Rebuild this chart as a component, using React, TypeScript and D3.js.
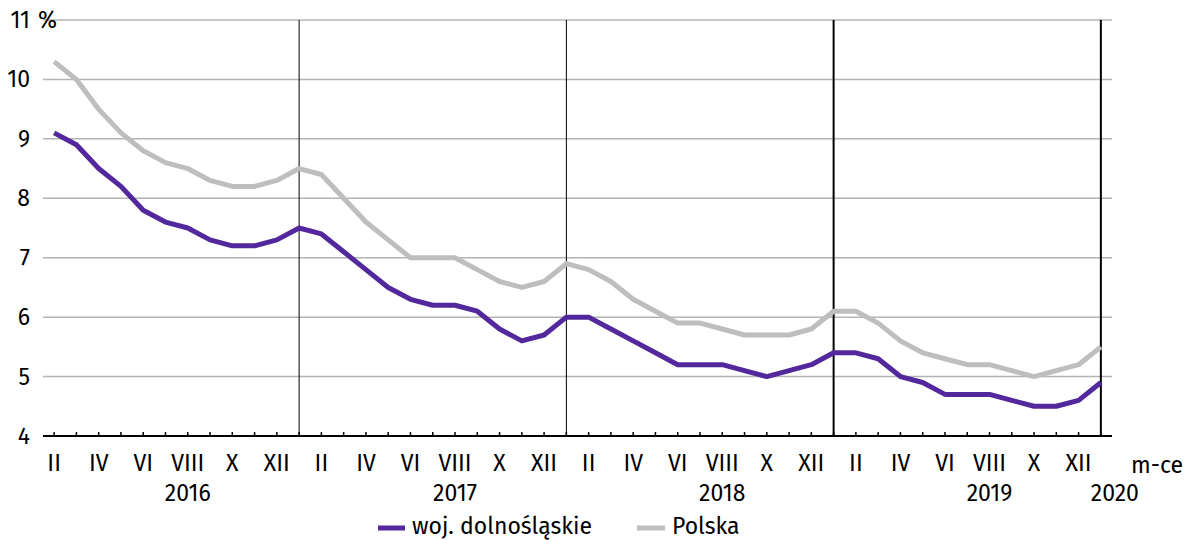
import React from "react";
import * as d3 from "d3";

const months = ["I","II","III","IV","V","VI","VII","VIII","IX","X","XI","XII"];
// data from II 2016 to I 2020
const startYear = 2016;
const startMonth = 1; // index of II
const dolnoslaskie = [
  9.1, 8.9, 8.5, 8.2, 7.8, 7.6, 7.5, 7.3, 7.2, 7.2, 7.3,
  7.5, 7.4, 7.1, 6.8, 6.5, 6.3, 6.2, 6.2, 6.1, 5.8, 5.6, 5.7,
  6.0, 6.0, 5.8, 5.6, 5.4, 5.2, 5.2, 5.2, 5.1, 5.0, 5.1, 5.2,
  5.4, 5.4, 5.3, 5.0, 4.9, 4.7, 4.7, 4.7, 4.6, 4.5, 4.5, 4.6,
  4.9,
];
const polska = [
  10.3, 10.0, 9.5, 9.1, 8.8, 8.6, 8.5, 8.3, 8.2, 8.2, 8.3,
  8.5, 8.4, 8.0, 7.6, 7.3, 7.0, 7.0, 7.0, 6.8, 6.6, 6.5, 6.6,
  6.9, 6.8, 6.6, 6.3, 6.1, 5.9, 5.9, 5.8, 5.7, 5.7, 5.7, 5.8,
  6.1, 6.1, 5.9, 5.6, 5.4, 5.3, 5.2, 5.2, 5.1, 5.0, 5.1, 5.2,
  5.5,
];
const yTicks = [4, 5, 6, 7, 8, 9, 10, 11];
const years = [2016, 2017, 2018, 2019, 2020];
const seriesNames = ["woj. dolnośląskie", "Polska"];
const colors = ["#52289c", "#bebebe"];

const W = 1185, H = 540;
const FONT = "'Fira Sans', 'Noto Sans', 'Open Sans', sans-serif";

export default function App() {
  const n = dolnoslaskie.length;
  const x = d3.scaleLinear().domain([-0.5, n - 0.5]).range([43, 1112]);
  const y = d3.scaleLinear().domain([4, 11]).range([436, 20]);
  const line = d3.line<number>().x((_, i) => x(i)).y((d) => y(d));
  const idx = d3.range(n);
  const monthOf = (i: number) => (startMonth + i) % 12;
  const yearOf = (i: number) => startYear + Math.floor((startMonth + i) / 12);
  const janIdx = idx.filter((i) => monthOf(i) === 0);
  const labelIdx = idx.filter((i) => monthOf(i) % 2 === 1);
  const yearLabelPos = years.map((yr) => {
    if (yr === 2020) {
      const i = idx.find((k) => yearOf(k) === yr)!;
      return { yr, xp: x(i) + 14 };
    }
    const i = idx.find((k) => yearOf(k) === yr && monthOf(k) === 7)!;
    return { yr, xp: x(i) };
  });
  const fs = 23;
  return (
    <svg width={W} height={H} style={{ display: "block", position: "absolute", left: 0, top: 0 }} fontFamily={FONT}>
      <rect width={W} height={H} fill="#fff" />
      {yTicks.filter((t) => t > 4).map((t) => (
        <line key={t} x1={43} x2={1112} y1={y(t)} y2={y(t)} stroke="#b4b4b4" strokeWidth={1.5} />
      ))}
      {janIdx.map((i) => (
        <line key={i} x1={x(i)} x2={x(i)} y1={y(11)} y2={y(4)} stroke="#000" strokeWidth={yearOf(i) >= 2019 ? 2 : 1} />
      ))}
      <line x1={43} x2={1112} y1={y(4)} y2={y(4)} stroke="#000" strokeWidth={2} />
      {idx.map((i) => (
        <line key={i} x1={x(i)} x2={x(i)} y1={y(4)} y2={y(4) - 4} stroke="#000" strokeWidth={1.5} />
      ))}
      <path d={line(polska)!} fill="none" stroke={colors[1]} strokeWidth={5} strokeLinejoin="round" />
      <path d={line(dolnoslaskie)!} fill="none" stroke={colors[0]} strokeWidth={5} strokeLinejoin="round" />
      {yTicks.map((t) => (
        <text key={t} x={30} y={y(t)} dy="0.35em" textAnchor="end" fontSize={fs} fill="#000">{t}</text>
      ))}
      <text x={38} y={y(11)} dy="0.35em" fontSize={fs} fill="#000">%</text>
      {labelIdx.map((i) => (
        <text key={i} x={x(i)} y={471} textAnchor="middle" fontSize={fs} fill="#000">{months[monthOf(i)]}</text>
      ))}
      {yearLabelPos.map((d) => (
        <text key={d.yr} x={d.xp} y={501} textAnchor="middle" fontSize={fs} fill="#000">{d.yr}</text>
      ))}
      <text x={1131} y={473} fontSize={fs} fill="#000">m-ce</text>
      <line x1={378} x2={405} y1={528} y2={528} stroke={colors[0]} strokeWidth={5} />
      <text x={412} y={534} fontSize={fs} fill="#000">{seriesNames[0]}</text>
      <line x1={637} x2={665} y1={528} y2={528} stroke={colors[1]} strokeWidth={5} />
      <text x={672} y={534} fontSize={fs} fill="#000">{seriesNames[1]}</text>
    </svg>
  );
}
